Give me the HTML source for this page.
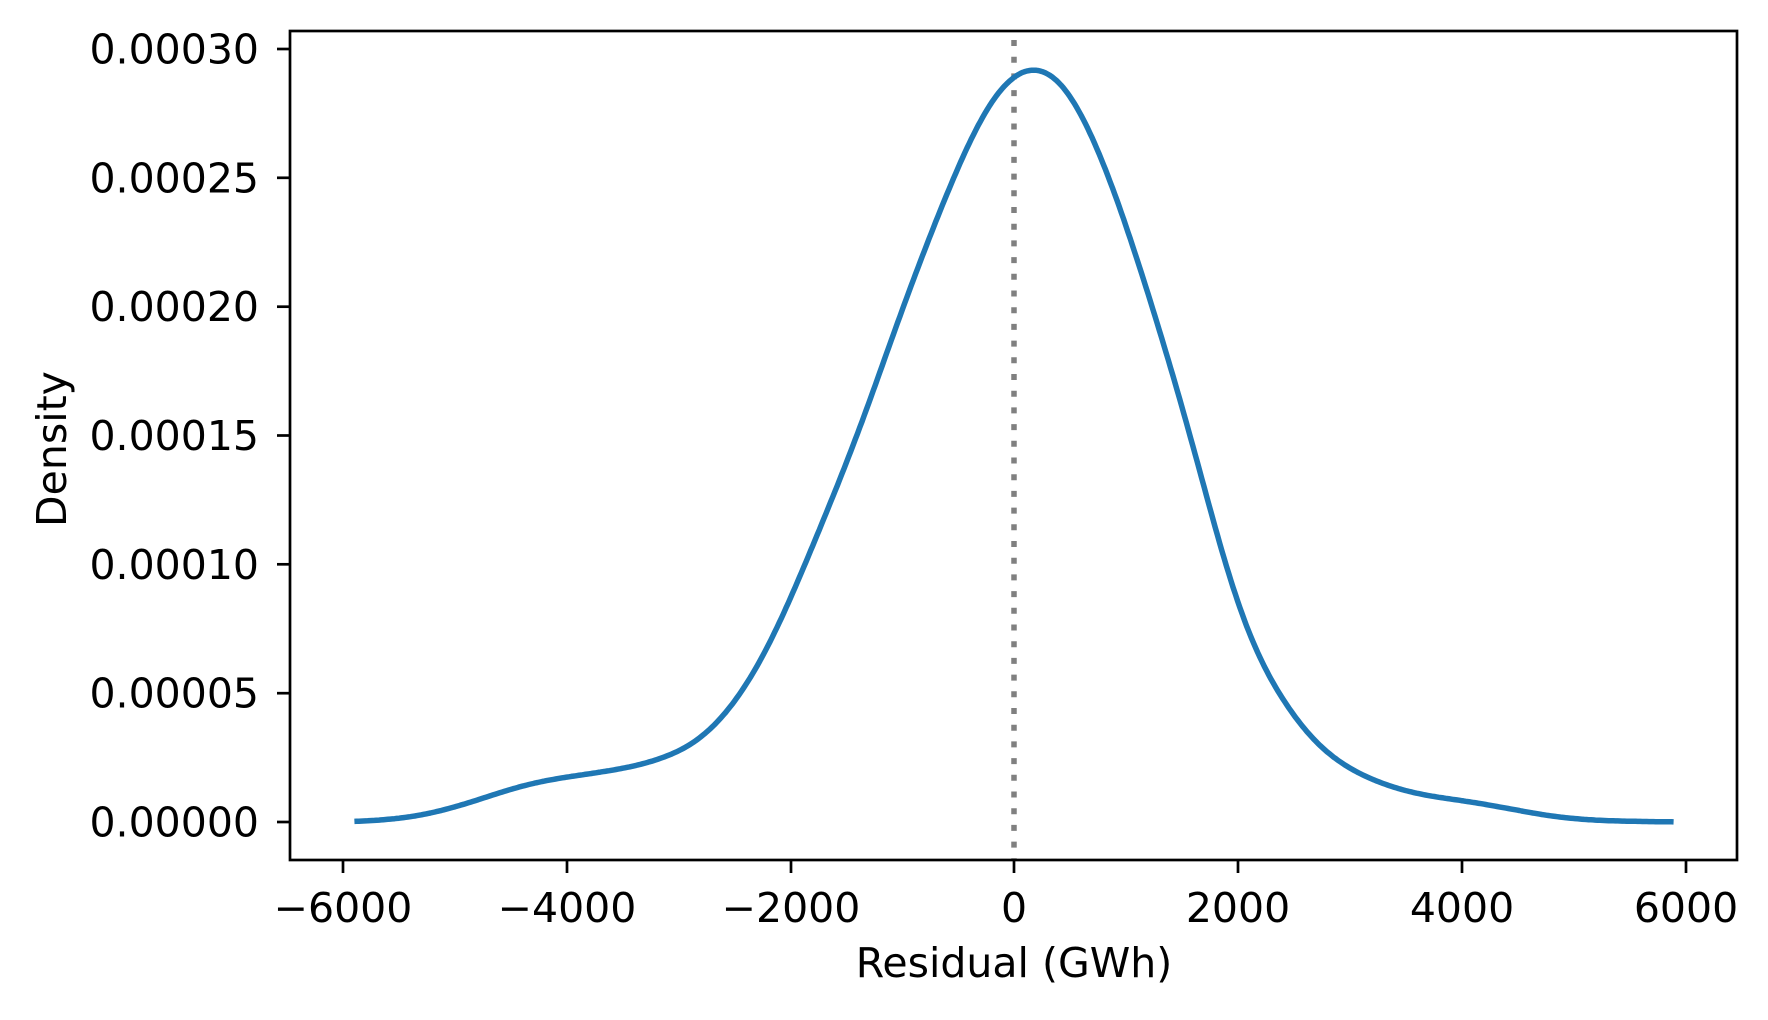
<!DOCTYPE html>
<html><head><meta charset="utf-8"><style>
html,body{margin:0;padding:0;background:#fff}
svg{display:block}
text{font-family:"DejaVu Sans","Liberation Sans",sans-serif;fill:#000}
</style></head><body>
<svg id="s" width="1768" height="1020" viewBox="0 0 1768 1020" xmlns="http://www.w3.org/2000/svg">
<rect width="1768" height="1020" fill="#fff"/>
<line x1="1014" y1="40" x2="1014" y2="860" stroke="#808080" stroke-width="5.5" stroke-dasharray="6 10.7"/>
<path id="curve" d="" fill="none" stroke="#1f77b4" stroke-width="5.5" stroke-linejoin="round" stroke-linecap="butt"/>
<rect x="290" y="31" width="1447" height="829" fill="none" stroke="#000" stroke-width="2.7"/>
<g stroke="#000" stroke-width="2.7">
<line x1="277" y1="822" x2="290" y2="822"/><line x1="277" y1="693.2" x2="290" y2="693.2"/>
<line x1="277" y1="564.3" x2="290" y2="564.3"/><line x1="277" y1="435.5" x2="290" y2="435.5"/>
<line x1="277" y1="306.7" x2="290" y2="306.7"/><line x1="277" y1="177.8" x2="290" y2="177.8"/>
<line x1="277" y1="49" x2="290" y2="49"/>
<line x1="343" y1="860" x2="343" y2="873"/><line x1="567" y1="860" x2="567" y2="873"/>
<line x1="791" y1="860" x2="791" y2="873"/><line x1="1014" y1="860" x2="1014" y2="873"/>
<line x1="1238" y1="860" x2="1238" y2="873"/><line x1="1462" y1="860" x2="1462" y2="873"/>
<line x1="1686" y1="860" x2="1686" y2="873"/>
</g>
<g font-size="41" text-anchor="end">
<text x="259" y="836.5">0.00000</text><text x="259" y="707.7">0.00005</text>
<text x="259" y="578.8">0.00010</text><text x="259" y="450">0.00015</text>
<text x="259" y="321.2">0.00020</text><text x="259" y="192.3">0.00025</text>
<text x="259" y="63.5">0.00030</text>
</g>
<g font-size="41" text-anchor="middle">
<text x="343" y="922">−6000</text><text x="567" y="922">−4000</text>
<text x="791" y="922">−2000</text><text x="1014" y="922">0</text>
<text x="1238" y="922">2000</text><text x="1462" y="922">4000</text>
<text x="1686" y="922">6000</text>
<text x="1014" y="977">Residual (GWh)</text>
<text transform="translate(66,449) rotate(-90)">Density</text>
</g>
</svg>
<script>
var P=[[-7,0],[-5.9,0],[-5.4,0.15],[-5,0.55],[-4.6,1.15],[-4.3,1.55],[-4,1.75],[-3.5,2.05],[-3.2,2.35],[-2.82,3],[-2.6,4],[-2.41,5],[-2.1,7.5],[-1.87,10],[-1.39,15],[-1,20],[-0.55,25],[-0.25,28],[0,29.3],[0.15,29.6],[0.45,29.1],[0.85,25.3],[1.24,20],[1.59,15],[1.87,10],[2.1,6.8],[2.35,5],[2.67,3],[3,2],[3.23,1.55],[3.6,1.05],[4,0.85],[4.4,0.55],[4.8,0.2],[5.2,0.05],[5.9,0],[7,0]];
function lin(x){for(var i=0;i<P.length-1;i++){if(x<=P[i+1][0]){var t=(x-P[i][0])/(P[i+1][0]-P[i][0]);return P[i][1]+t*(P[i+1][1]-P[i][1]);}}return 0;}
var h=0.02,sig=0.2,K=[],ks=0;
for(var k=-50;k<=50;k++){var w=Math.exp(-0.5*Math.pow(k*h/sig,2));K.push(w);ks+=w;}
function X(x){return 1014+x*111.8}function Y(y){return 822-y*25.77}
var d="";
for(var x=-5.9;x<=5.9001;x+=h){var s=0;for(var k=-50;k<=50;k++){s+=K[k+50]*lin(x+k*h);}s/=ks;
d+=(d?" L":"M")+X(x).toFixed(1)+","+Y(s).toFixed(1);}
document.getElementById("curve").setAttribute("d",d);
</script>
</body></html>
